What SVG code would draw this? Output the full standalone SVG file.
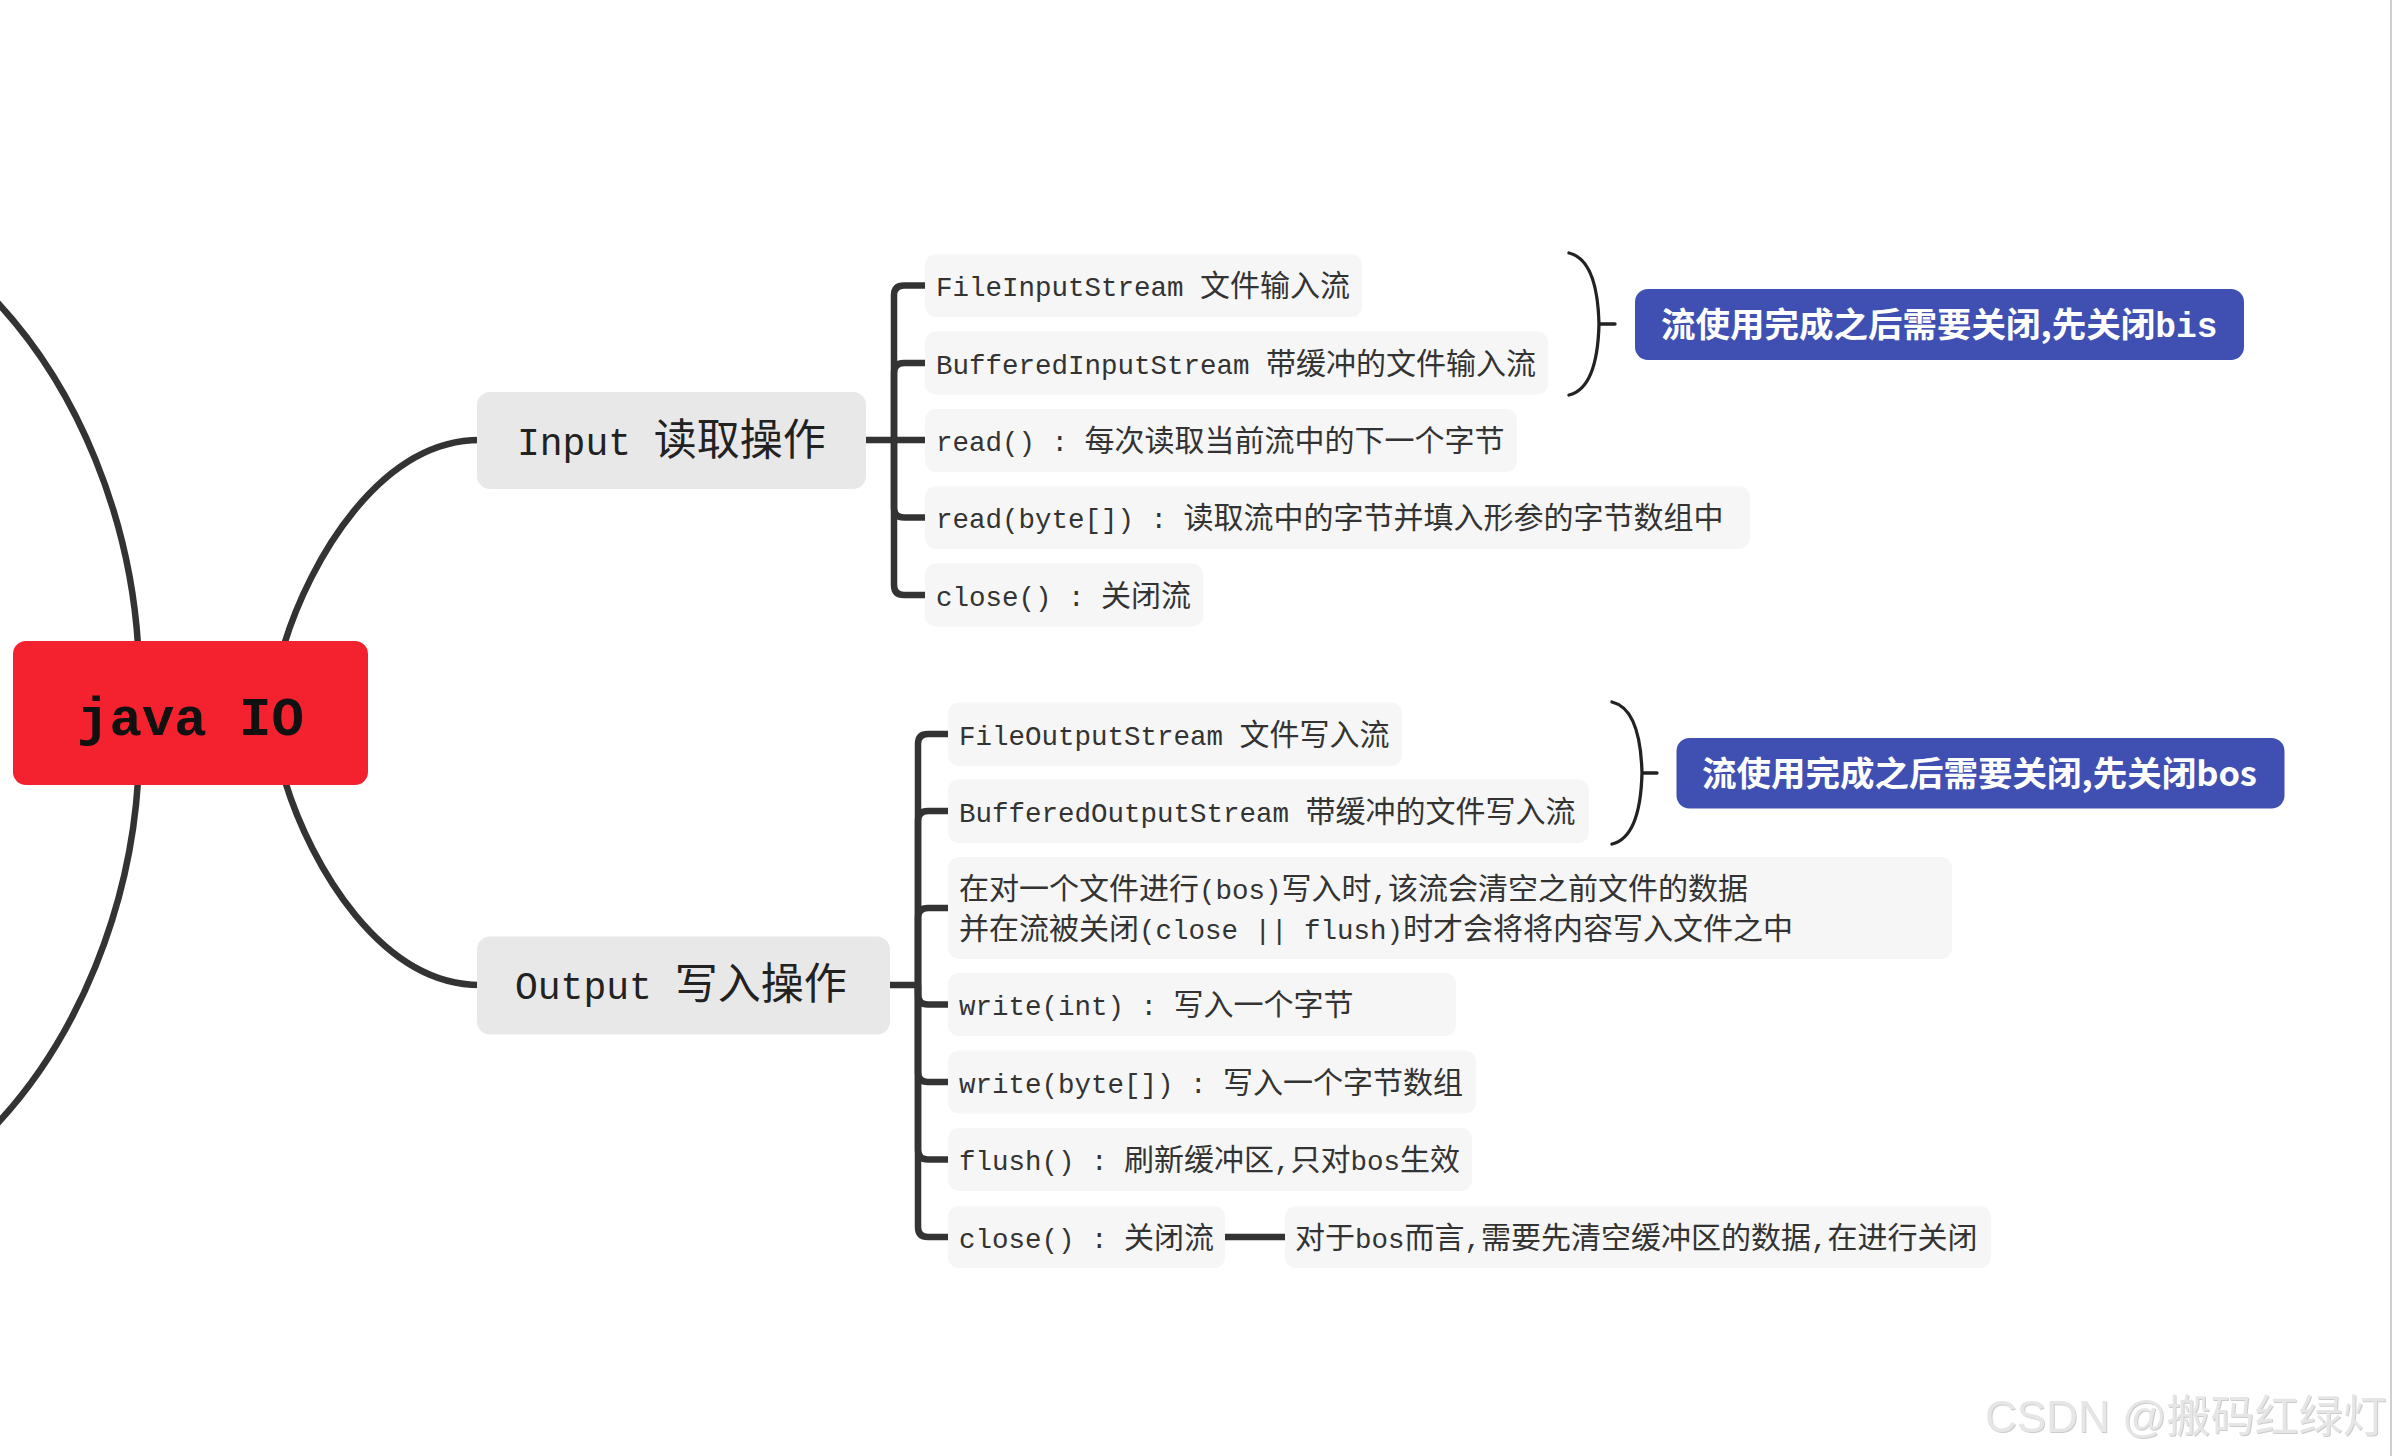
<svg xmlns="http://www.w3.org/2000/svg" width="2393" height="1456" viewBox="0 0 2393 1456">
<style>
.bg{fill:#ffffff}
.ln{fill:none;stroke:#333333;stroke-width:6.5;stroke-linecap:butt;stroke-linejoin:round}
.br{fill:none;stroke:#222222;stroke-width:3.3;stroke-linecap:round}
.root{fill:#f4212e}
.main{fill:#e8e8e8}
.leaf{fill:#f6f6f6}
.note{fill:#3f50b2}
.rt{font-family:"Liberation Mono","DejaVu Sans Mono",monospace;font-weight:bold;font-size:54px;fill:#111111;text-anchor:middle}
.m{font-family:"Liberation Mono","Noto Sans CJK SC",monospace;font-size:38px;fill:#222222}
.mc{font-family:"Noto Sans CJK SC",sans-serif;font-size:43px}
.t{font-family:"Liberation Mono","Noto Sans CJK SC",monospace;font-size:27.5px;fill:#333333}
.c{font-family:"Noto Sans CJK SC",sans-serif;font-size:30px}
.nt{font-family:"Noto Sans CJK SC",sans-serif;font-weight:bold;font-size:34.5px;fill:#ffffff}
.nl{font-family:"Liberation Mono",monospace;font-weight:bold}
.wm{font-family:"Liberation Sans","Noto Sans CJK SC",sans-serif;font-size:44px;fill:#e6e6e6}
</style>
<defs>
<filter id="emb" x="-5%" y="-20%" width="110%" height="140%">
<feDropShadow dx="1" dy="1" stdDeviation="0.6" flood-color="#a8a8a8" flood-opacity="0.6"/>
</filter>
</defs>
<rect class="bg" x="0" y="0" width="2393" height="1456"/>
<line x1="2391" y1="0" x2="2391" y2="1456" stroke="#cfcfcf" stroke-width="2"/>

<g id="connectors">
<path class="ln" d="M138 645 C130 520 80 390 -5 300"/>
<path class="ln" d="M138 781 C130 906 80 1036 -5 1126"/>
<path class="ln" d="M284 645 C310 560 380 440 480 440"/>
<path class="ln" d="M285 781 C311 866 381 985 480 985"/>
<path class="ln" d="M894 440 V295.5 Q894 285.5 904 285.5 H925"/>
<path class="ln" d="M894 440 V373 Q894 363 904 363 H925"/>
<path class="ln" d="M862 440 H925"/>
<path class="ln" d="M894 440 V507.5 Q894 517.5 904 517.5 H925"/>
<path class="ln" d="M894 440 V585 Q894 595 904 595 H925"/>
<path class="ln" d="M918 985 V744 Q918 734 928 734 H948"/>
<path class="ln" d="M918 985 V821 Q918 811 928 811 H948"/>
<path class="ln" d="M918 985 V918 Q918 908 928 908 H948"/>
<path class="ln" d="M886 985 H918"/>
<path class="ln" d="M918 985 V994.5 Q918 1004.5 928 1004.5 H948"/>
<path class="ln" d="M918 985 V1072 Q918 1082 928 1082 H948"/>
<path class="ln" d="M918 985 V1149.5 Q918 1159.5 928 1159.5 H948"/>
<path class="ln" d="M918 985 V1227 Q918 1237 928 1237 H948"/>
<path class="ln" d="M1225 1237 H1285"/>
<path class="br" d="M1569 253 C1590 258 1598 285 1599 324 C1598 363 1590 390 1569 395 M1599 324 H1615"/>
<path class="br" d="M1612 702 C1633 707 1641 734 1642 773 C1641 812 1633 839 1612 844 M1642 773 H1657"/>
</g>

<g id="root">
<rect class="root" x="13" y="641" width="355" height="144" rx="13"/>
<text class="rt" x="190.5" y="735">java IO</text>
</g>

<g id="input">
<rect class="main" x="477" y="392" width="389" height="97" rx="13"/>
<text class="m" x="517" y="454.5">Input <tspan class="mc">读取操作</tspan></text>
</g>

<g id="output">
<rect class="main" x="477" y="936.5" width="413" height="98" rx="13"/>
<text class="m" x="515" y="999">Output <tspan class="mc">写入操作</tspan></text>
</g>

<g id="in1">
<rect class="leaf" x="925" y="254" width="437" height="63" rx="11"/>
<text class="t" x="936" y="296">FileInputStream <tspan class="c">文件输入流</tspan></text>
</g>
<g id="in2">
<rect class="leaf" x="925" y="331.5" width="623" height="63" rx="11"/>
<text class="t" x="936" y="373.5">BufferedInputStream <tspan class="c">带缓冲的文件输入流</tspan></text>
</g>
<g id="in3">
<rect class="leaf" x="925" y="409" width="592" height="63" rx="11"/>
<text class="t" x="936" y="451">read() : <tspan class="c">每次读取当前流中的下一个字节</tspan></text>
</g>
<g id="in4">
<rect class="leaf" x="925" y="486" width="825" height="63" rx="11"/>
<text class="t" x="936" y="528">read(byte[]) : <tspan class="c">读取流中的字节并填入形参的字节数组中</tspan></text>
</g>
<g id="in5">
<rect class="leaf" x="925" y="563.5" width="278" height="63" rx="11"/>
<text class="t" x="936" y="605.5">close() : <tspan class="c">关闭流</tspan></text>
</g>

<g id="note-bis">
<rect class="note" x="1635" y="289" width="609" height="71" rx="13"/>
<text class="nt" x="1661" y="337">流使用完成之后需要关闭,先关闭<tspan class="nl">bis</tspan></text>
</g>

<g id="out1">
<rect class="leaf" x="948" y="702.5" width="454" height="63.5" rx="11"/>
<text class="t" x="959" y="744.5">FileOutputStream <tspan class="c">文件写入流</tspan></text>
</g>
<g id="out2">
<rect class="leaf" x="948" y="779.5" width="641" height="63.5" rx="11"/>
<text class="t" x="959" y="821.5">BufferedOutputStream <tspan class="c">带缓冲的文件写入流</tspan></text>
</g>
<g id="out3">
<rect class="leaf" x="948" y="857" width="1004" height="102" rx="11"/>
<text class="t" x="959" y="899"><tspan class="c">在对一个文件进行</tspan>(bos)<tspan class="c">写入时</tspan>,<tspan class="c">该流会清空之前文件的数据</tspan></text>
<text class="t" x="959" y="938.5"><tspan class="c">并在流被关闭</tspan>(close || flush)<tspan class="c">时才会将将内容写入文件之中</tspan></text>
</g>
<g id="out4">
<rect class="leaf" x="948" y="973" width="508" height="63" rx="11"/>
<text class="t" x="959" y="1015">write(int) : <tspan class="c">写入一个字节</tspan></text>
</g>
<g id="out5">
<rect class="leaf" x="948" y="1050.5" width="528" height="63" rx="11"/>
<text class="t" x="959" y="1092.5">write(byte[]) : <tspan class="c">写入一个字节数组</tspan></text>
</g>
<g id="out6">
<rect class="leaf" x="948" y="1128" width="524" height="63" rx="11"/>
<text class="t" x="959" y="1170">flush() : <tspan class="c">刷新缓冲区</tspan>,<tspan class="c">只对</tspan>bos<tspan class="c">生效</tspan></text>
</g>
<g id="out7">
<rect class="leaf" x="948" y="1206" width="277" height="62" rx="11"/>
<text class="t" x="959" y="1247.5">close() : <tspan class="c">关闭流</tspan></text>
</g>
<g id="out7-note">
<rect class="leaf" x="1285" y="1206" width="706" height="62" rx="11"/>
<text class="t" x="1295" y="1247.5"><tspan class="c">对于</tspan>bos<tspan class="c">而言</tspan>,<tspan class="c">需要先清空缓冲区的数据</tspan>,<tspan class="c">在进行关闭</tspan></text>
</g>

<g id="note-bos">
<rect class="note" x="1676.5" y="738" width="608" height="70.5" rx="13"/>
<text class="nt" x="1702" y="785.5">流使用完成之后需要关闭,先关闭bos</text>
</g>

<g id="watermark">
<text class="wm" x="1985" y="1432" filter="url(#emb)">CSDN @搬码红绿灯</text>
</g>
</svg>
